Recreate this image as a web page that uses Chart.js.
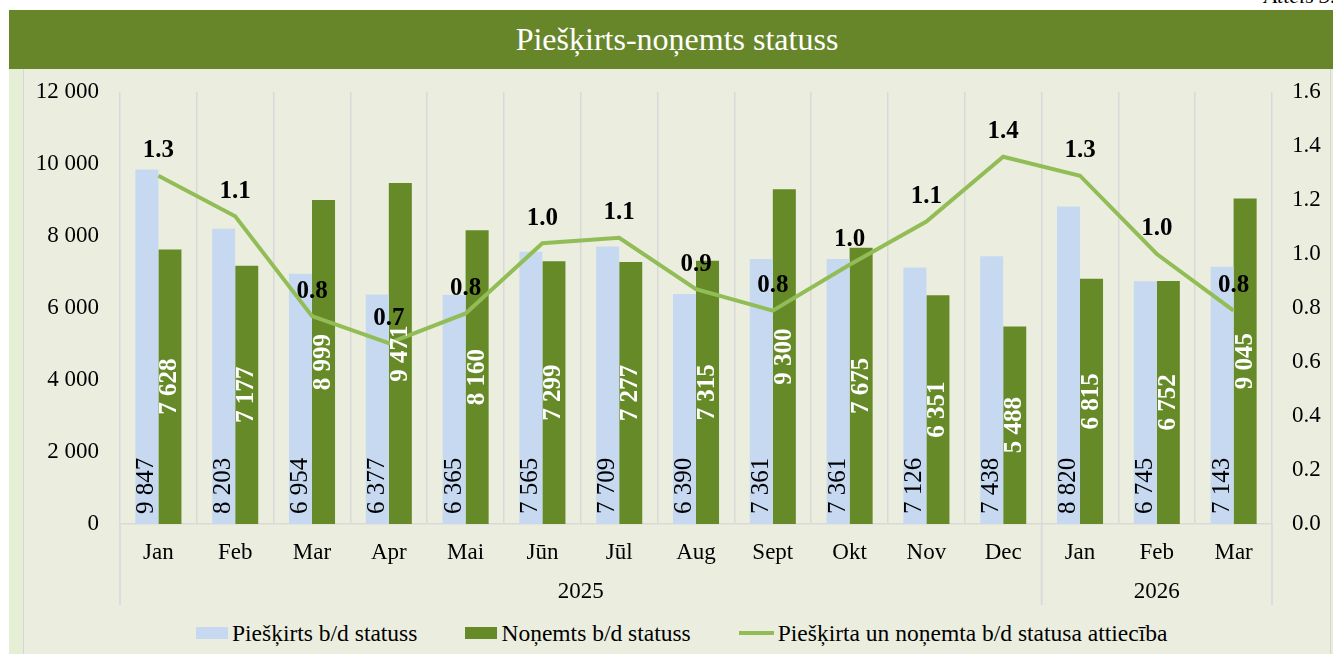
<!DOCTYPE html>
<html>
<head>
<meta charset="utf-8">
<script src="https://cdn.jsdelivr.net/npm/chart.js@4.4.1/dist/chart.umd.min.js"></script>
<style>
  body { margin: 0; width: 1333px; height: 654px; overflow: hidden; background: #fff; position: relative; font-family: 'Liberation Serif', serif; }
  #note { position: absolute; right: -3px; top: -17px; font-style: italic; font-size: 22px; color: #000; }
  #band { position: absolute; left: 9px; top: 10px; width: 1324px; height: 59px; background: #67862A; }
  #title { position: absolute; left: 24px; top: 10px; width: 1306px; height: 59px; line-height: 59px; text-align: center; color: #fff; font-size: 32px; }
  #strip { position: absolute; left: 9px; top: 69px; width: 1324px; height: 585px; background: #E5EFD6; }
  #panel { position: absolute; left: 23px; top: 69px; width: 1306px; height: 585px; background: #EBEEDF; border-left: 1px solid #D6D6D6; border-right: 1px solid #D6D6D6; }
  #wrap { position: absolute; left: 24px; top: 69px; width: 1306px; height: 541px; }
  #legend { position: absolute; left: 196px; top: 619px; height: 28px; display: flex; align-items: center; font-size: 23.5px; color: #000; white-space: nowrap; }
  #legend .item { display: flex; align-items: center; margin-right: 48px; }
  #legend .mark { margin-right: 4px; }
</style>
</head>
<body>
<div id="note">Attēls 3.</div>
<div id="band"></div>
<div id="title">Piešķirts-noņemts statuss</div>
<div id="strip"></div>
<div id="panel"></div>
<div id="wrap"><canvas id="chart" width="1306" height="541"></canvas></div>
<div id="legend"></div>
<script>
// data
const months = ['Jan', 'Feb', 'Mar', 'Apr', 'Mai', 'Jūn', 'Jūl', 'Aug', 'Sept', 'Okt', 'Nov', 'Dec', 'Jan', 'Feb', 'Mar'];
const years = [
    { label: '2025', from: 0, to: 12 },
    { label: '2026', from: 12, to: 15 },
];
const granted = [9847, 8203, 6954, 6377, 6365, 7565, 7709, 6390, 7361, 7361, 7126, 7438, 8820, 6745, 7143];
const revoked = [7628, 7177, 8999, 9471, 8160, 7299, 7277, 7315, 9300, 7675, 6351, 5488, 6815, 6752, 9045];
const ratio = [1.29, 1.14, 0.77, 0.67, 0.78, 1.04, 1.06, 0.87, 0.79, 0.96, 1.12, 1.36, 1.29, 1.00, 0.79];

const FONT = 'Liberation Serif';
const blue = '#C6D9F0';
const green = '#678A28';
const lineGreen = '#92BD56';

function spaced(n) {
    return String(n).replace(/\B(?=(\d{3})+(?!\d))/g, ' ');
}

// bar + line value labels
const valueLabels = {
    id: 'valueLabels',
    afterDatasetsDraw(chart) {
        const ctx = chart.ctx;
        ctx.save();
        chart.getDatasetMeta(0).data.forEach((bar, i) => {
            ctx.save();
            ctx.translate(bar.x, bar.base - 10);
            ctx.rotate(-Math.PI / 2);
            ctx.font = '25px "' + FONT + '"';
            ctx.fillStyle = '#000';
            ctx.textAlign = 'left';
            ctx.textBaseline = 'middle';
            ctx.fillText(spaced(granted[i]), 0, 0);
            ctx.restore();
        });
        chart.getDatasetMeta(1).data.forEach((bar, i) => {
            ctx.save();
            ctx.translate(bar.x, (bar.y + bar.base) / 2);
            ctx.rotate(-Math.PI / 2);
            ctx.font = 'bold 25px "' + FONT + '"';
            ctx.fillStyle = '#fff';
            ctx.textAlign = 'center';
            ctx.textBaseline = 'middle';
            ctx.fillText(spaced(revoked[i]), 0, 0);
            ctx.restore();
        });
        chart.getDatasetMeta(2).data.forEach((pt, i) => {
            ctx.font = 'bold 25px "' + FONT + '"';
            ctx.fillStyle = '#000';
            ctx.textAlign = 'center';
            ctx.textBaseline = 'middle';
            ctx.fillText(ratio[i].toFixed(1), pt.x, pt.y - 25);
        });
        ctx.restore();
    }
};

// second level of the x axis (years)
const yearAxis = {
    id: 'yearAxis',
    afterDraw(chart) {
        const ctx = chart.ctx;
        const x = chart.scales.x;
        const w = (x.right - x.left) / months.length;
        const top = chart.chartArea.bottom;
        ctx.save();
        ctx.strokeStyle = '#D9D9D9';
        ctx.lineWidth = 1.5;
        ctx.font = '23px "' + FONT + '"';
        ctx.fillStyle = '#000';
        ctx.textAlign = 'center';
        ctx.textBaseline = 'middle';
        years.forEach(y => {
            [y.from, y.to].forEach(k => {
                const px = x.left + k * w;
                ctx.beginPath();
                ctx.moveTo(px, top);
                ctx.lineTo(px, top + 81);
                ctx.stroke();
            });
            ctx.fillText(y.label, x.left + (y.from + y.to) / 2 * w, top + 68);
        });
        ctx.restore();
    }
};

const tickFont = { family: FONT, size: 23 };

// fix axis widths so the plot area lands where the reference has it
function fixWidth(w) {
    return s => {
        s.width = w;
        s.paddingTop = 0;
        s.paddingBottom = 0;
    };
}

const chart = new Chart(document.getElementById('chart'), {
    data: {
        labels: months,
        datasets: [
            {
                type: 'bar',
                label: 'Piešķirts b/d statuss',
                data: granted,
                backgroundColor: blue,
                yAxisID: 'y',
                order: 2,
                categoryPercentage: 0.6,
                barPercentage: 1,
            },
            {
                type: 'bar',
                label: 'Noņemts b/d statuss',
                data: revoked,
                backgroundColor: green,
                yAxisID: 'y',
                order: 2,
                categoryPercentage: 0.6,
                barPercentage: 1,
            },
            {
                type: 'line',
                label: 'Piešķirta un noņemta b/d statusa attiecība',
                data: ratio,
                borderColor: lineGreen,
                borderWidth: 4,
                pointRadius: 0,
                tension: 0,
                yAxisID: 'y1',
                order: 1,
            },
        ]
    },
    options: {
        responsive: false,
        animation: false,
        layout: { padding: { top: 23, bottom: 5, left: 0, right: 0 } },
        plugins: {
            legend: { display: false },
            tooltip: { enabled: false },
        },
        scales: {
            x: {
                grid: { color: '#D9D9D9', lineWidth: 1.5, drawTicks: false, offset: true },
                border: { color: '#D9D9D9', width: 1.5 },
                ticks: { font: tickFont, color: '#000', padding: 15, maxRotation: 0, autoSkip: false },
                afterFit: s => { s.height = 81; },
            },
            y: {
                position: 'left',
                min: 0,
                max: 12000,
                ticks: { stepSize: 2000, font: tickFont, color: '#000', padding: 21, callback: v => spaced(v) },
                grid: { display: false, drawTicks: false },
                border: { display: false },
                afterFit: fixWidth(96),
            },
            y1: {
                position: 'right',
                min: 0,
                max: 1.6,
                ticks: { stepSize: 0.2, font: tickFont, color: '#000', padding: 20, callback: v => v.toFixed(1) },
                grid: { display: false, drawTicks: false },
                border: { display: false },
                afterFit: fixWidth(58),
            },
        }
    },
    plugins: [valueLabels, yearAxis]
});

// legend
const legend = document.getElementById('legend');
chart.data.datasets.forEach(ds => {
    const item = document.createElement('span');
    item.className = 'item';
    const mark = document.createElement('span');
    mark.className = 'mark';
    if (ds.type === 'line') {
        mark.style.cssText = 'width:35px;height:4px;background:' + ds.borderColor;
    } else {
        mark.style.cssText = 'width:32px;height:12px;background:' + ds.backgroundColor;
    }
    item.appendChild(mark);
    item.appendChild(document.createTextNode(ds.label));
    legend.appendChild(item);
});
</script>
</body>
</html>
